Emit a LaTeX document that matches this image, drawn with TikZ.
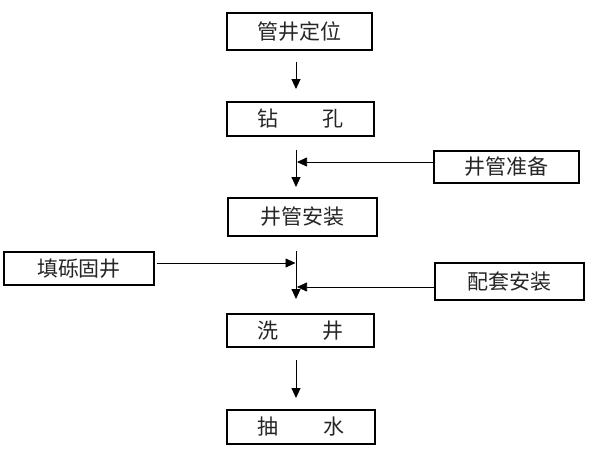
\documentclass[tikz,border=0pt]{standalone}
\usepackage{fontspec}
\newfontfamily\cjk{Noto Sans CJK SC}
\usetikzlibrary{arrows.meta}
\begin{document}
\begin{tikzpicture}[x=1pt,y=-1pt,
  box/.style={draw=black,line width=1.2pt,inner sep=0pt,font=\cjk\fontsize{21}{24}\selectfont,text=black!85},
  flow/.style={draw=black,line width=0.9pt,-{Triangle[length=10pt,width=9pt]}},
  feed/.style={draw=black,line width=0.7pt,-{Triangle[length=10pt,width=9pt]}}]
\useasboundingbox[fill=white] (0,0) rectangle (600,450);
\node[box,minimum width=145pt,minimum height=37pt] (b1) at (299.5,31.5) {管井定位};
\node[box,minimum width=147pt,minimum height=34pt] (b2) at (300.5,119) {钻\hspace{2.1em}孔};
\node[box,minimum width=149pt,minimum height=38pt] (b3) at (302.5,217) {井管安装};
\node[box,minimum width=147pt,minimum height=33pt] (b4) at (300.5,330.5) {洗\hspace{2.1em}井};
\node[box,minimum width=148pt,minimum height=34pt] (b5) at (301,427) {抽\hspace{2.1em}水};
\node[box,minimum width=145pt,minimum height=32pt] (s1) at (506.5,167) {井管准备};
\node[box,minimum width=150pt,minimum height=33pt] (s2) at (79,268.5) {填砾固井};
\node[box,minimum width=149pt,minimum height=37pt] (s3) at (509.5,281.5) {配套安装};
% flow arrows
\coordinate (a1s) at (296,62);
\coordinate (a1e) at (296,89);
\coordinate (a2s) at (296,150);
\coordinate (a2e) at (296,187);
\coordinate (a3s) at (296,251);
\coordinate (a3e) at (296,299);
\coordinate (a4s) at (296,360);
\coordinate (a4e) at (296,398);
\draw[flow] (a1s) -- (a1e);
\draw[flow] (a2s) -- (a2e);
\draw[flow] (a3s) -- (a3e);
\draw[flow] (a4s) -- (a4e);
% feed arrows
\coordinate (j1) at (297,162);
\coordinate (j2) at (295.5,263);
\coordinate (j3) at (297,287);
\coordinate (g2) at (157,263);
\draw[feed] (s1.west |- j1) -- (j1);
\draw[feed] (g2) -- (j2);
\draw[feed] (s3.west |- j3) -- (j3);
\end{tikzpicture}
\end{document}
